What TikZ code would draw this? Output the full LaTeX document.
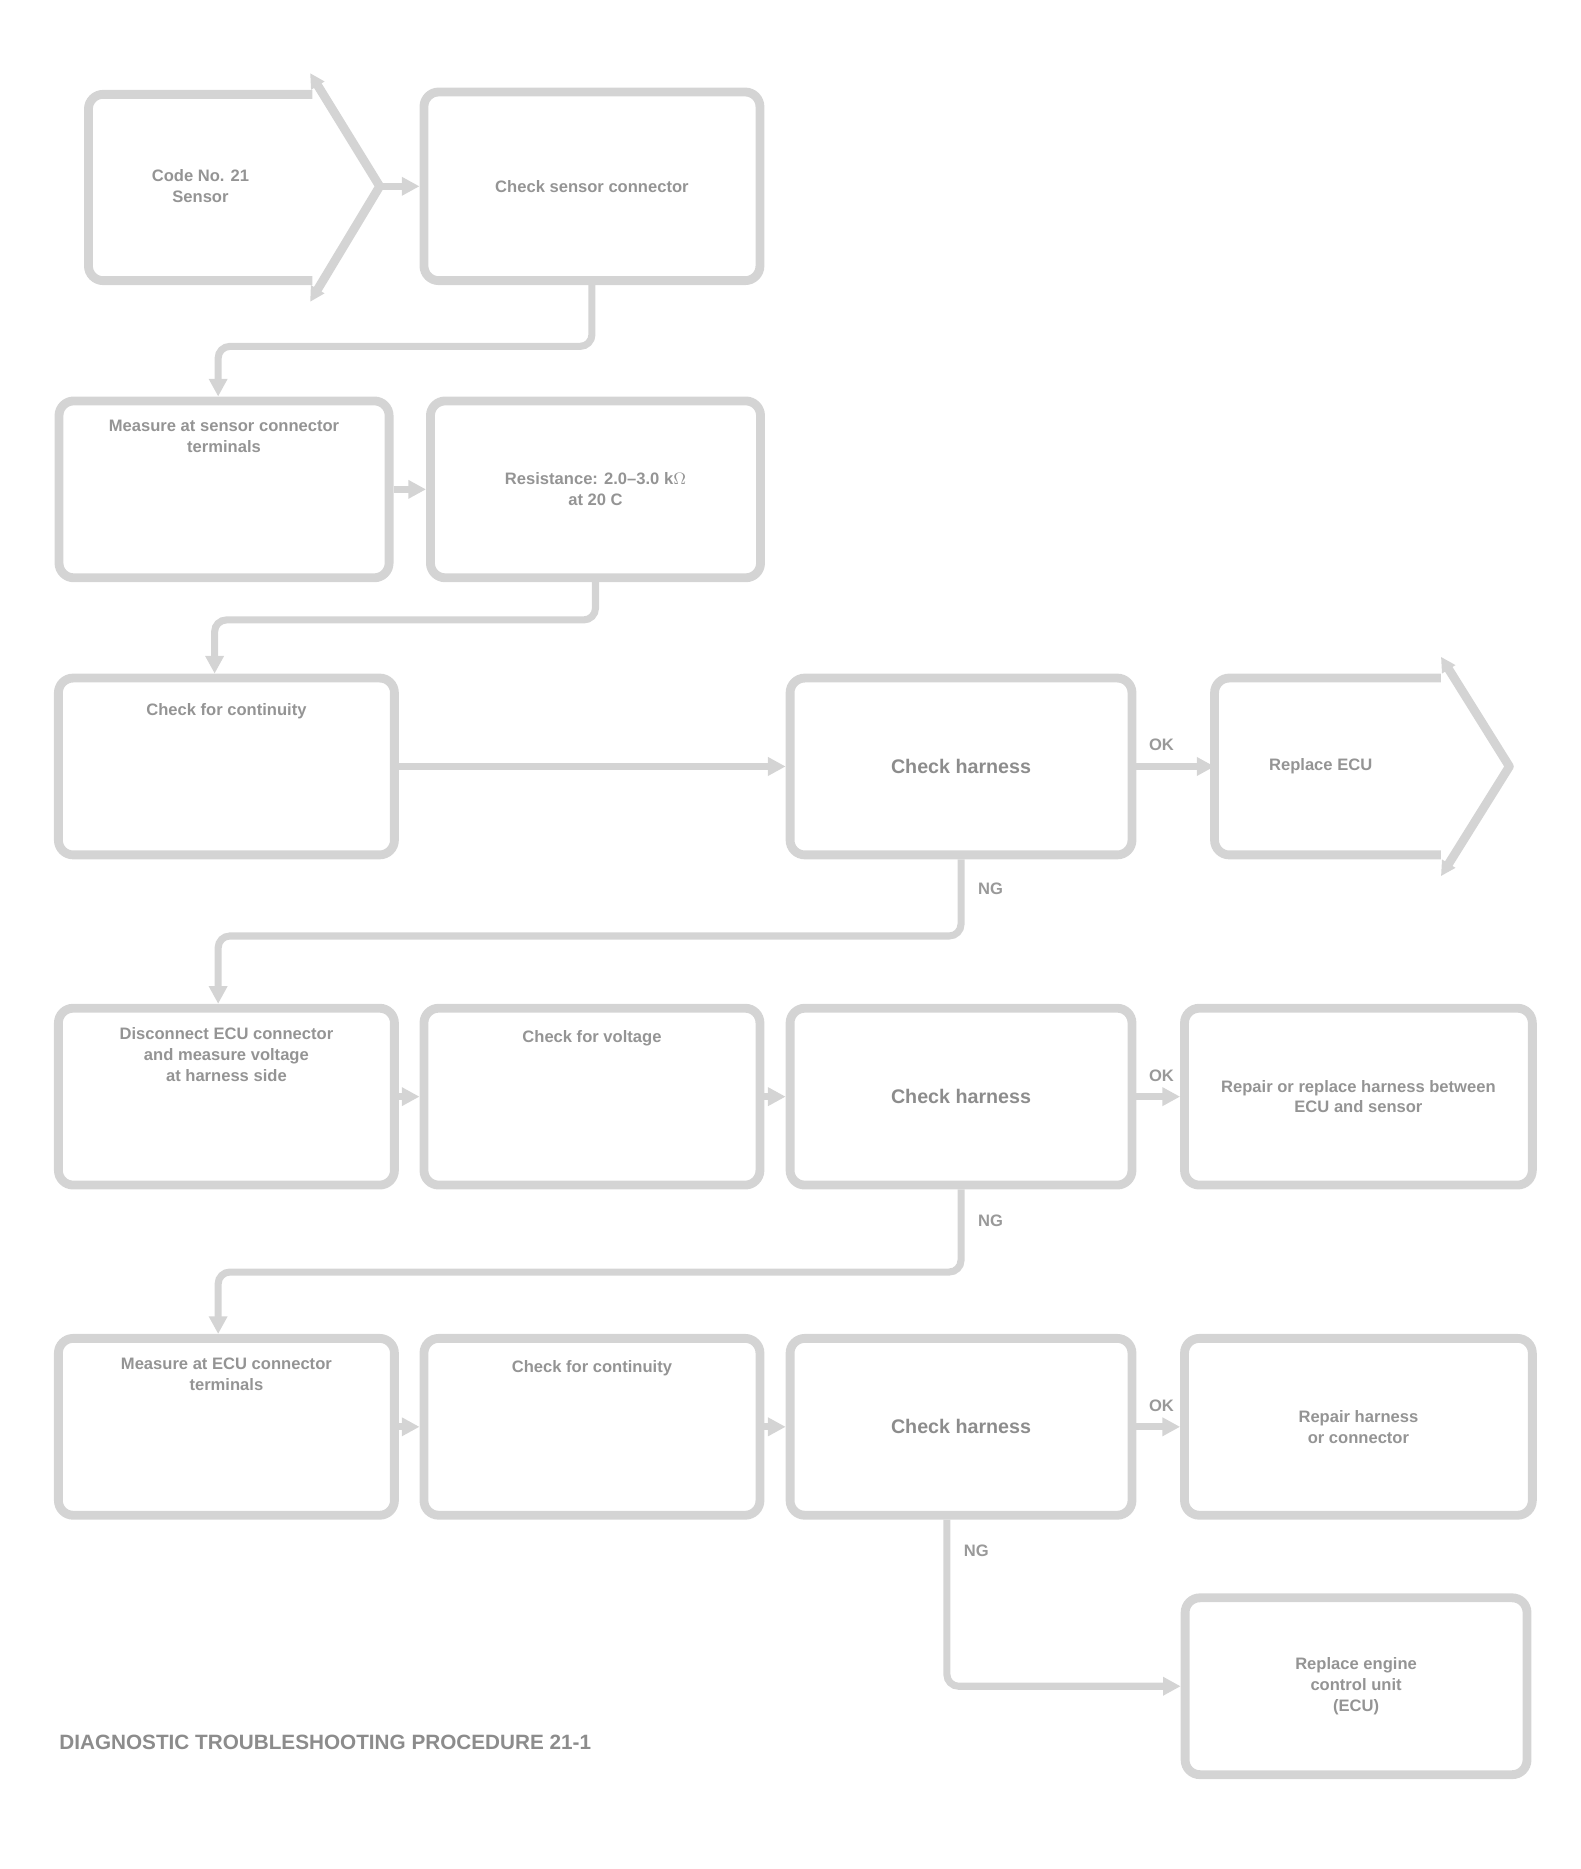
\documentclass[tikz,border=0pt]{standalone}
\usepackage{fontspec}
\setmainfont{Liberation Sans}
\usetikzlibrary{calc,arrows.meta}
\begin{document}
\begin{tikzpicture}[x=0.02cm,y=-0.02cm,
  outl/.style={draw=black!17,line width=0.15cm,rounded corners=0.25cm},
  stepbox/.style={outl,inner sep=0pt,minimum height=3cm,text=black!42,
    font=\fontsize{8}{10}\selectfont\bfseries,align=center},
  bigtext/.style={text=black!45,font=\fontsize{9.5}{11}\selectfont\bfseries,align=center},
  txt/.style={text=black!42,font=\fontsize{8}{10}\selectfont\bfseries,align=center,inner sep=0pt},
  lbl/.style={text=black!40,font=\fontsize{8}{9}\selectfont\bfseries,inner sep=1pt},
  conn/.style={draw=black!17,line width=0.12cm,rounded corners=0.2cm,-{Triangle[length=0.3cm,width=0.3cm]}},
  chev/.style={draw=black!17,line width=0.15cm,{Triangle[length=0.25cm,width=0.25cm]}-{Triangle[length=0.25cm,width=0.25cm]}}]
\useasboundingbox (0,0) rectangle (1340,1585);

% ---- row 1
\node[txt,minimum width=3.8cm,minimum height=3.2cm] (A) at (170,158) {Code No. 21\\Sensor};
\draw[outl] (265,80) -- (75,80) -- (75,238) -- (265,238);
\draw[chev,line join=round] (263,62) -- (322,158) -- (263,256);
\coordinate (Atip) at (322,158);
\node[stepbox,minimum width=5.7cm,minimum height=3.2cm] (B) at (502,158) {Check sensor connector};

% ---- row 2
\node[stepbox,minimum width=5.6cm] (C) at (190,415) {};
\node[txt,anchor=north] (Ct) at ($(C.north)+(0,20)$) {Measure at sensor connector\\terminals};
\node[stepbox,minimum width=5.6cm] (D) at (505,415) {Resistance: 2.0--3.0 k$\Omega$\\at 20 C};

% ---- row 3
\node[stepbox,minimum width=5.7cm] (E) at (192,650) {};
\node[txt,anchor=north] (Et) at ($(E.north)+(0,25)$) {Check for continuity};
\node[stepbox,minimum width=5.8cm,bigtext] (F) at (815,650) {Check harness};
\node[txt,minimum width=3.9cm,minimum height=3cm] (G) at (1120,650) {Replace ECU};
\draw[outl] (1222,575) -- (1030,575) -- (1030,725) -- (1222,725);
\draw[chev,line join=round] (1222,557) -- (1280,650) -- (1222,743);

% ---- row 4
\node[stepbox,minimum width=5.7cm] (H) at (192,930) {};
\node[txt,anchor=north] (Ht) at ($(H.north)+(0,20)$) {Disconnect ECU connector\\and measure voltage\\at harness side};
\node[stepbox,minimum width=5.7cm] (I) at (502,930) {};
\node[txt,anchor=north] (It) at ($(I.north)+(0,22)$) {Check for voltage};
\node[stepbox,minimum width=5.8cm,bigtext] (J) at (815,930) {Check harness};
\node[stepbox,minimum width=5.9cm] (K) at (1152,930) {Repair or replace harness between\\ECU and sensor};

% ---- row 5
\node[stepbox,minimum width=5.7cm] (L) at (192,1210) {};
\node[txt,anchor=north] (Lt) at ($(L.north)+(0,20)$) {Measure at ECU connector\\terminals};
\node[stepbox,minimum width=5.7cm] (M) at (502,1210) {};
\node[txt,anchor=north] (Mt) at ($(M.north)+(0,22)$) {Check for continuity};
\node[stepbox,minimum width=5.8cm,bigtext] (N) at (815,1210) {Check harness};
\node[stepbox,minimum width=5.9cm] (O) at (1152,1210) {Repair harness\\or connector};
\node[stepbox,minimum width=5.8cm] (P) at (1150,1430) {Replace engine\\control unit\\(ECU)};

% ---- connectors
\draw[conn] (Atip) -- (B.west);
\draw[conn] (B.south) -- ++(0,52) -| ($(C.north)+(-5,0)$);
\draw[conn] (C.east) -- (D.west);
\draw[conn] (D.south) -- ++(0,32) -| ($(E.north)+(-10,0)$);
\draw[conn] (E.east) -- (F.west);
\draw[conn] (F.east) -- (1030,650);
\draw[conn] (F.south) -- ++(0,65) -| ($(H.north)+(-7,0)$);
\draw[conn] (H.east) -- (I.west);
\draw[conn] (I.east) -- (J.west);
\draw[conn] (J.east) -- (K.west);
\draw[conn] (J.south) -- ++(0,70) -| ($(L.north)+(-7,0)$);
\draw[conn] (L.east) -- (M.west);
\draw[conn] (M.east) -- (N.west);
\draw[conn] (N.east) -- (O.west);
\draw[conn] ($(N.south)+(-12,0)$) |- (P.west);

% ---- connector labels
\node[lbl] (ok1) at (985,632) {OK};
\node[lbl] (ok2) at (985,912) {OK};
\node[lbl] (ok3) at (985,1192) {OK};
\node[lbl] (ng1) at (840,754) {NG};
\node[lbl] (ng2) at (840,1035) {NG};
\node[lbl] (ng3) at (828,1315) {NG};

% ---- caption
\node[anchor=west,text=black!45,font=\fontsize{10}{12}\selectfont\bfseries,inner sep=0pt] (cap) at (50,1478) {DIAGNOSTIC TROUBLESHOOTING PROCEDURE 21-1};
\end{tikzpicture}
\end{document}
